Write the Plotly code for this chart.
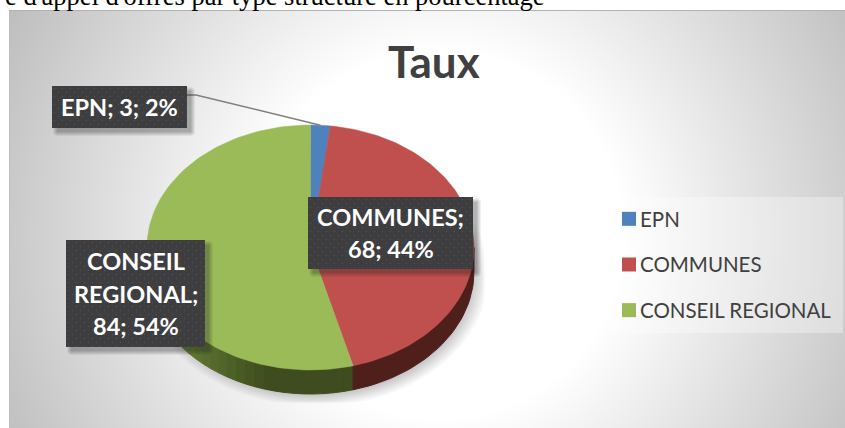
import base64, struct, zlib
import numpy as np
import plotly.graph_objects as go

categories = ["EPN", "COMMUNES", "CONSEIL REGIONAL"]
values = [3, 68, 84]
percent_labels = ["2%", "44%", "54%"]
face_colors = ["#4f81bd", "#c0504d", "#9bbb59"]
title_text = "Taux"
caption_text = "e d'appel d'offres par type structure en pourcentage"

W, H = 845, 428
CX, CY, RX, RY, DEPTH = 310.5, 247.5, 163.5, 122.5, 24
FONT = "Lato"
DARK = "#404040"


def png_uri(rgba):
    h, w, _ = rgba.shape
    raw = b"".join(b"\x00" + rgba[r].tobytes() for r in range(h))

    def chunk(tag, data):
        body = tag + data
        return struct.pack(">I", len(data)) + body + struct.pack(">I", zlib.crc32(body))

    png = (b"\x89PNG\r\n\x1a\n" + chunk(b"IHDR", struct.pack(">IIBBBBB", w, h, 8, 6, 0, 0, 0))
           + chunk(b"IDAT", zlib.compress(raw)) + chunk(b"IEND", b""))
    return "data:image/png;base64," + base64.b64encode(png).decode()


def background():
    x0, y0 = 9, 10
    xs, ys = np.meshgrid(np.arange(x0, W) + 0.5, np.arange(y0, H) + 0.5)
    d = np.hypot(xs - 440, ys - 235)
    grey = 255 - np.clip(d - 185, 0, None) * 0.216
    # soft shadow of the pie, limited to its box
    r = np.hypot((xs - CX - 5) / (RX + 10), (ys - CY - DEPTH - 3) / (RY + 10))
    a = np.clip((1.0 - r) / 0.12, 0, 1) * 0.32
    a *= np.clip((486 - xs) / 4, 0, 1) * np.clip((404 - ys) / 3, 0, 1)
    grey = grey * (1 - a) + 40 * a
    # thin top and left edges
    grey[0:1, :] = 178
    grey[:, 0:1] = np.minimum(grey[:, 0:1], 190)
    rgba = np.zeros(grey.shape + (4,), dtype=np.uint8)
    rgba[..., :3] = np.clip(grey, 0, 255)[..., None].astype(np.uint8)
    rgba[..., 3] = 255
    return png_uri(rgba)


def label_box(w, h, pad=9):
    """Dark dotted panel with a soft shadow to the lower right."""
    tw, th = w + pad, h + pad
    ys, xs = np.mgrid[0:th, 0:tw]
    rgba = np.zeros((th, tw, 4), dtype=np.uint8)
    dx = np.maximum(np.maximum(5 - xs, xs - (w + 3)), 0)
    dy = np.maximum(np.maximum(5 - ys, ys - (h + 3)), 0)
    rgba[..., 3] = (np.clip(1 - np.hypot(dx, dy) / 5, 0, 1) * 85).astype(np.uint8)
    rgba[..., :3] = 30
    col = np.full((h, w), 62, dtype=np.uint8)
    yy, xx = np.mgrid[0:h, 0:w]
    col[((xx % 8 == 2) & (yy % 8 == 2)) | ((xx % 8 == 6) & (yy % 8 == 6))] = 84
    rgba[:h, :w, 0] = col
    rgba[:h, :w, 1] = col
    rgba[:h, :w, 2] = col + 2
    rgba[:h, :w, 3] = 255
    return png_uri(rgba), tw, th


def px_image(src, x, y, w, h, layer):
    return dict(source=src, xref="paper", yref="paper", x=x / W, y=1 - y / H,
                sizex=w / W, sizey=h / H, xanchor="left", yanchor="top",
                sizing="stretch", layer=layer)


total = sum(values)
edges = np.cumsum([0] + values) / total * 2 * np.pi


def rim(t, drop=0.0):
    return CX + RX * np.sin(t), CY + drop - RY * np.cos(t)


fig = go.Figure()

# side wall: the visible lower half of the disc; the green part in strips for the shading
wall_end = 1.5 * np.pi
split = edges[2]


def add_wall(a, b, color):
    t = np.linspace(a, b, 40)
    xt, yt = rim(t)
    xb, yb = rim(t[::-1], DEPTH)
    fig.add_trace(go.Scatter(x=np.r_[xt, xb, xt[0]], y=np.r_[yt, yb, yt[0]], mode="lines",
                             fill="toself", fillcolor=color, line=dict(color=color, width=1),
                             hoverinfo="skip", showlegend=False))


strips = np.linspace(split, wall_end, 31)
for a, b in zip(strips[::-1][1:], strips[::-1][:-1]):
    k = np.clip(((a + b) / 2 - (np.pi + 0.25)) / 0.75, 0, 1)
    add_wall(a, b, f"rgb({int(62 + 46 * k)},{int(76 + 60 * k)},{int(32 + 22 * k)})")
add_wall(np.pi / 2, split, "#4f1f1c")

# top face of the pie, one polygon per category
for i, name in enumerate(categories):
    t = np.linspace(edges[i], edges[i + 1], 120)
    xs, ys = rim(t)
    fig.add_trace(go.Scatter(x=np.r_[CX, xs, CX], y=np.r_[CY, ys, CY], mode="lines",
                             fill="toself", fillcolor=face_colors[i],
                             line=dict(color=face_colors[i], width=0.5),
                             name=name, hoverinfo="skip", showlegend=False))

# leader line of the smallest slice, ending on the rim at its mid angle
ex, ey = rim((edges[0] + edges[1]) / 2)
fig.add_trace(go.Scatter(x=[187, 196, ex], y=[95, 95, ey], mode="lines",
                         line=dict(color="#7f7f7f", width=1.5),
                         hoverinfo="skip", showlegend=False))

# legend entries
for i, name in enumerate(categories):
    fig.add_trace(go.Scatter(x=[None], y=[None], mode="markers", name=name, legendgroup=name,
                             marker=dict(symbol="square", size=14, color=face_colors[i])))

images = [px_image(background(), 9, 10, W - 9, H - 10, "below")]
annotations = [
    dict(text=title_text, x=434, y=61, xref="x", yref="y", showarrow=False,
         font=dict(family=FONT, size=44, color=DARK, weight="bold")),
    dict(text=caption_text, x=547, y=13, xref="x", yref="y", xanchor="right", yanchor="bottom",
         showarrow=False, font=dict(family="Liberation Serif", size=26.5, color="#000000")),
]

# data labels: panel (left, top, width, height) and one text line per row
boxes = [(52, 86, 135, 42), (308, 197, 165, 72), (66, 240, 139, 107)]
rows = [
    [f"{categories[0]}; {values[0]}; {percent_labels[0]}"],
    [f"{categories[1]};", f"{values[1]}; {percent_labels[1]}"],
    ["CONSEIL", "REGIONAL;", f"{values[2]}; {percent_labels[2]}"],
]
for (bx, by, bw, bh), lines in zip(boxes, rows):
    src, tw, th = label_box(bw, bh)
    images.append(px_image(src, bx, by, tw, th, "above"))
    step = 32.5
    top = by + bh / 2 - step * (len(lines) - 1) / 2
    for j, line in enumerate(lines):
        annotations.append(dict(text=line, x=bx + bw / 2, y=top + j * step, xref="x", yref="y",
                                showarrow=False,
                                font=dict(family=FONT, size=23.5, color="#ffffff", weight="bold")))

fig.update_layout(
    width=W, height=H, margin=dict(l=0, r=0, t=0, b=0),
    paper_bgcolor="#ffffff", plot_bgcolor="rgba(0,0,0,0)",
    xaxis=dict(range=[0, W], visible=False, fixedrange=True),
    yaxis=dict(range=[H, 0], visible=False, fixedrange=True),
    images=images, annotations=annotations,
    shapes=[dict(type="rect", xref="x", yref="y", x0=610, x1=843, y0=197, y1=333,
                 fillcolor="rgba(255,255,255,0.32)", line=dict(width=0), layer="below")],
    legend=dict(x=600 / W, y=1 - 199 / H, xanchor="left", yanchor="top",
                bgcolor="rgba(0,0,0,0)", tracegroupgap=16, itemclick=False, itemdoubleclick=False,
                font=dict(family=FONT, size=20.5, color=DARK)),
    showlegend=True,
)
post = """
document.body.style.margin = '0';
document.body.style.overflow = 'hidden';
document.querySelectorAll('.legendsymbols').forEach(function (g) {
  g.setAttribute('transform', 'translate(9,0)');
});
"""
fig.write_html("out.html", config=dict(displayModeBar=False), post_script=post)
